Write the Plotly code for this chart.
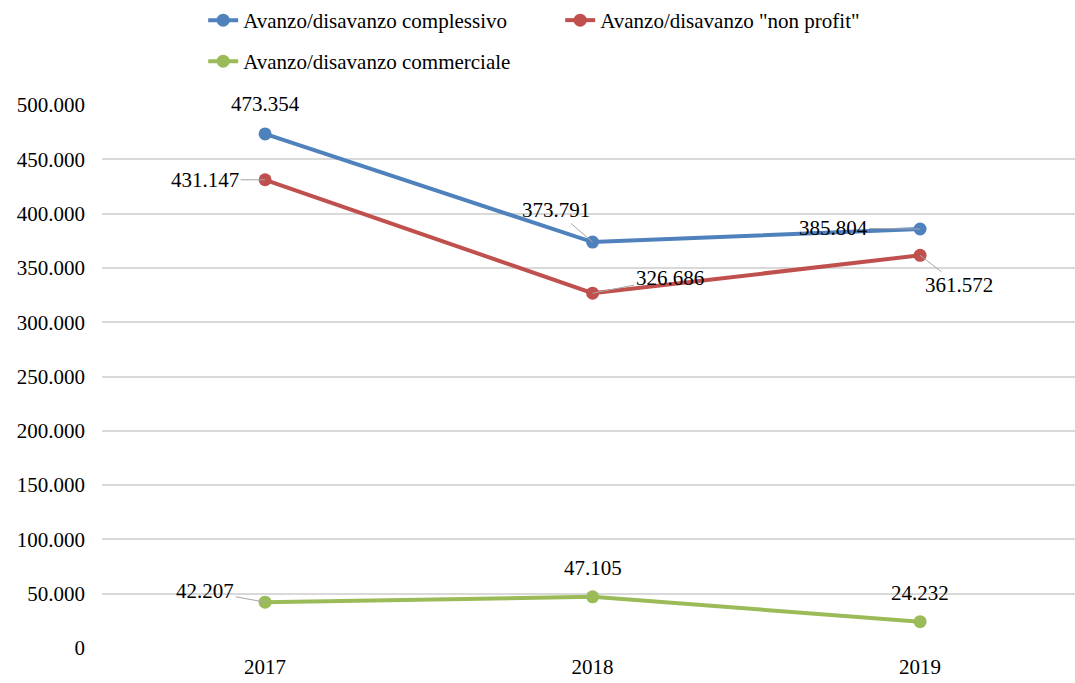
import plotly.graph_objects as go

years = ["2017", "2018", "2019"]
complessivo = [473354, 373791, 385804]
non_profit = [431147, 326686, 361572]
commerciale = [42207, 47105, 24232]
names = ["Avanzo/disavanzo complessivo", 'Avanzo/disavanzo "non profit"', "Avanzo/disavanzo commerciale"]
y_ticks = [0, 50000, 100000, 150000, 200000, 250000, 300000, 350000, 400000, 450000, 500000]

colors = ["#4F81BD", "#C0504D", "#9BBB59"]
FONT = "Liberation Serif"
FS = 21

def fmt(v):
    return f"{v:,}".replace(",", ".")

fig = go.Figure()
series = [complessivo, non_profit, commerciale]
for i, (s, n) in enumerate(zip(series, names)):
    fig.add_trace(go.Scatter(
        x=[0, 1, 2], y=s, name=n, mode="lines+markers",
        line=dict(color=colors[i], width=4),
        marker=dict(color=colors[i], size=13),
        legend="legend" if i < 2 else "legend2",
    ))

# label offsets (pixels) and whether a leader line is shown
offsets = [
    [(0, -30, False), (-37, -32, True), (-87, -1, True)],
    [(-60, 0, True), (77, -15, True), (39, 30, True)],
    [(-60, -11, True), (0, -29, False), (0, -29, False)],
]
for si, s in enumerate(series):
    for j, v in enumerate(s):
        ax, ay, leader = offsets[si][j]
        if leader:
            fig.add_annotation(
                x=j, y=v, xref="x", yref="y", text=fmt(v), showarrow=True,
                ax=ax, ay=ay, arrowhead=0, arrowwidth=1, arrowcolor="#A6A6A6",
                font=dict(family=FONT, size=FS, color="black"),
            )
        else:
            fig.add_annotation(
                x=j, y=v, xref="x", yref="y", text=fmt(v), showarrow=False,
                xshift=ax, yshift=-ay,
                font=dict(family=FONT, size=FS, color="black"),
            )

fig.update_layout(
    width=1075, height=683,
    margin=dict(l=102, r=0, t=105, b=35),
    paper_bgcolor="white", plot_bgcolor="white",
    separators=",.",
    font=dict(family=FONT, size=FS, color="black"),
    xaxis=dict(range=[-0.498, 2.473], tickvals=[0, 1, 2], ticktext=years, showgrid=False,
               zeroline=False, showline=False, ticks="", ticklabelstandoff=4,
               tickfont=dict(family=FONT, size=FS)),
    yaxis=dict(range=[0, 500000], tickvals=y_ticks, tickformat=",d",
               showgrid=True, gridcolor="#D9D9D9", gridwidth=1.5,
               zeroline=False, showline=False, ticks="", ticklabelstandoff=16,
               tickfont=dict(family=FONT, size=FS)),
    legend=dict(orientation="h", x=0.104, y=1.0, yref="container", xanchor="left", yanchor="top",
                font=dict(family=FONT, size=FS), bgcolor="rgba(0,0,0,0)",
                entrywidth=312, entrywidthmode="pixels"),
    legend2=dict(orientation="h", x=0.104, y=0.94, yref="container", xanchor="left", yanchor="top",
                 font=dict(family=FONT, size=FS), bgcolor="rgba(0,0,0,0)"),
)

fig.write_html("out.html")
